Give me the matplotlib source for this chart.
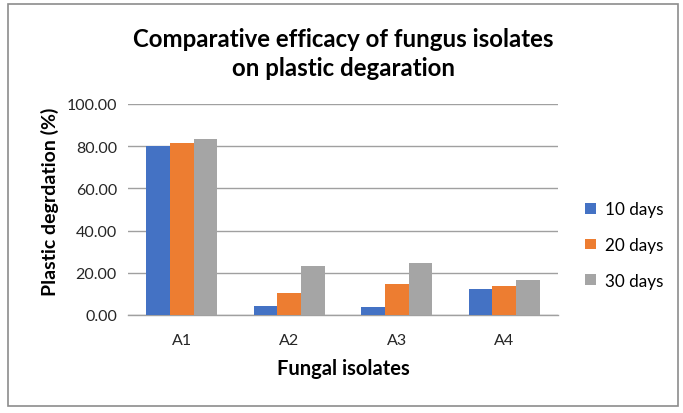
import matplotlib
matplotlib.use("Agg")
import matplotlib.pyplot as plt
import numpy as np
from matplotlib.patches import Rectangle

categories = ["A1", "A2", "A3", "A4"]
series_names = ["10 days", "20 days", "30 days"]
days10 = [80.3, 4.3, 4.0, 12.3]
days20 = [81.7, 10.4, 14.7, 13.8]
days30 = [83.6, 23.3, 24.7, 16.6]
yticks = [0, 20, 40, 60, 80, 100]
colors = ["#4472C4", "#ED7D31", "#A5A5A5"]

plt.rcParams['font.family'] = ['Lato', 'DejaVu Sans']

W, H = 683, 414
fig = plt.figure(figsize=(W / 100, H / 100), dpi=100)
fig.patch.set_facecolor("white")

# chart border
fig.patches.append(Rectangle((8 / W, 1 - 407 / H), (678 - 8) / W, (407 - 5) / H,
                             transform=fig.transFigure, fill=False,
                             edgecolor="#8c8c8c", linewidth=1.2))

left, right, top, bottom = 128, 558, 105, 316
ax = fig.add_axes([left / W, 1 - bottom / H, (right - left) / W, (bottom - top) / H])

x = np.arange(len(categories))
bw = 0.22
for i, (vals, name) in enumerate(zip([days10, days20, days30], series_names)):
    ax.bar(x + (i - 1) * bw, vals, width=bw, color=colors[i], label=name, zorder=3)

ax.set_xlim(-0.5, len(categories) - 0.5)
ax.set_ylim(0, 100)
ax.set_yticks(yticks)
ax.set_yticklabels([f"{v:.2f}" for v in yticks])
ax.set_xticks(x)
ax.set_xticklabels(categories)
ax.tick_params(axis="both", length=0, labelsize=11.5, colors="#262626")
ax.tick_params(axis="x", pad=13)
ax.tick_params(axis="y", pad=8)
ax.grid(axis="y", color="#a0a0a0", linewidth=1.0, zorder=0)
for s in ["top", "right", "left"]:
    ax.spines[s].set_visible(False)
ax.spines["bottom"].set_color("#a0a0a0")
ax.spines["bottom"].set_linewidth(1.0)

ax.set_xlabel("Fungal isolates", fontsize=14.5, fontweight="bold", labelpad=8)
ax.set_ylabel("Plastic degrdation (%)", fontsize=14, fontweight="bold")
ax.yaxis.set_label_coords((59 - left) / (right - left), (bottom - 202) / (bottom - top))

fig.text(343 / W, 1 - 54 / H, "Comparative efficacy of fungus isolates\non plastic degaration",
         ha="center", va="center", fontsize=17.3, fontweight="bold", linespacing=1.3)

ax.legend(loc="center left", bbox_to_anchor=(570 / W, 1 - 246 / H),
          bbox_transform=fig.transFigure, frameon=False, fontsize=12.3,
          handlelength=0.6, handleheight=0.6, labelspacing=1.15, handletextpad=0.55)

fig.savefig("out.png", dpi=100)
